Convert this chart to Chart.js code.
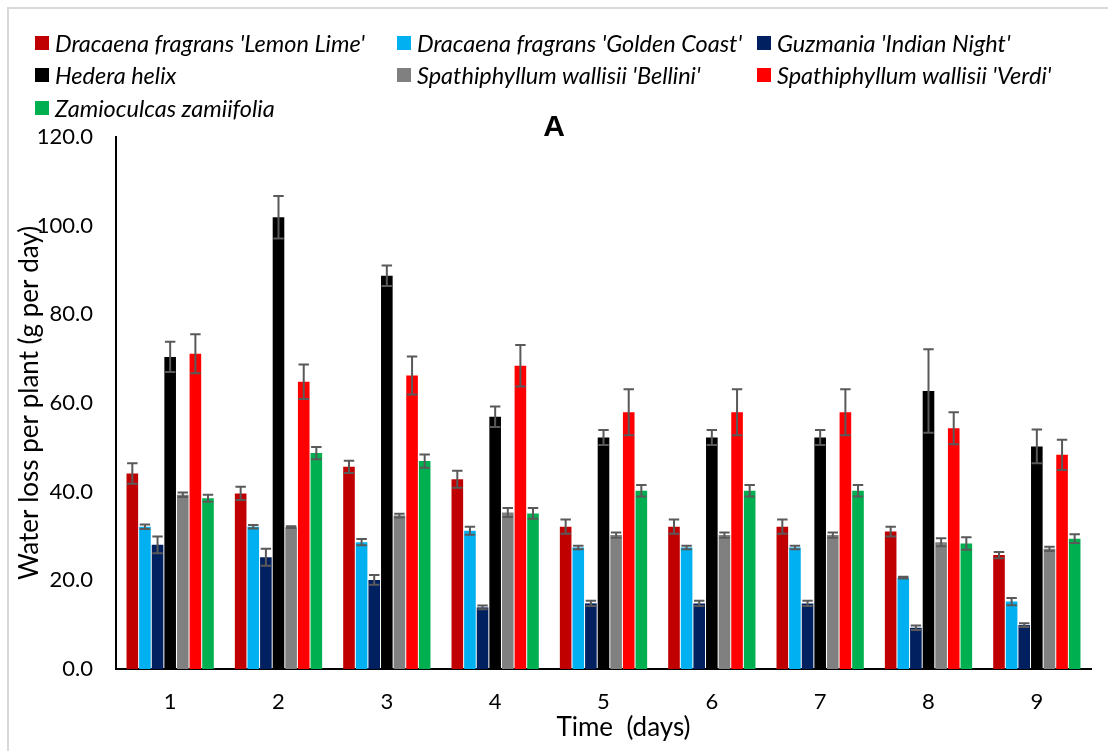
<!DOCTYPE html>
<html>
<head>
<meta charset="utf-8">
<title>Water loss per plant</title>
<script src="https://cdn.jsdelivr.net/npm/chart.js@4.4.1/dist/chart.umd.min.js"></script>
<style>
  body { margin: 0; background: #fff; }
  #wrap { position: relative; width: 1108px; height: 751px; overflow: hidden; }
  #frame { position: absolute; left: 7px; top: 7px; width: 1200px; height: 900px; border: 2px solid #d9d9d9; }
  #chart { position: absolute; left: 0; top: 0; }
  #legend { position: absolute; left: 0; top: 0; font-family: Lato, sans-serif; }
  .item { position: absolute; display: flex; align-items: center; height: 30px;
          font-style: italic; font-size: 23.5px; color: #000; white-space: nowrap; }
  .item .box { width: 14px; height: 14px; margin-right: 6px; }
</style>
</head>
<body>
<div id="wrap">
  <div id="frame"></div>
  <canvas id="chart" width="1108" height="751"></canvas>
  <div id="legend"></div>
</div>
<script>
// Dữ liệu
const days = ['1', '2', '3', '4', '5', '6', '7', '8', '9'];

const seriesNames = [
  "Dracaena fragrans 'Lemon Lime'",
  "Dracaena fragrans 'Golden Coast'",
  "Guzmania 'Indian Night'",
  "Hedera helix",
  "Spathiphyllum wallisii 'Bellini'",
  "Spathiphyllum wallisii 'Verdi'",
  "Zamioculcas zamiifolia"
];
const seriesColors = ['#C00000', '#00B0F0', '#002060', '#000000', '#808080', '#FF0000', '#00B050'];

const lemonLime   = [44.1, 39.6, 45.6, 42.8, 32.1, 32.1, 32.1, 31.0, 25.7];
const goldenCoast = [32.1, 32.1, 28.6, 31.2, 27.4, 27.4, 27.4, 20.6, 15.2];
const indianNight = [28.0, 25.2, 20.1, 13.9, 14.8, 14.8, 14.8, 9.3, 9.9];
const hedera      = [70.4, 101.9, 88.7, 56.9, 52.2, 52.2, 52.2, 62.7, 50.2];
const bellini     = [39.3, 32.0, 34.6, 35.3, 30.2, 30.2, 30.2, 28.6, 27.1];
const verdi       = [71.1, 64.8, 66.2, 68.4, 57.9, 57.9, 57.9, 54.3, 48.3];
const zamio       = [38.5, 48.7, 46.9, 35.1, 40.2, 40.2, 40.2, 28.3, 29.4];

// Sai số (±)
const lemonLimeErr   = [2.3, 1.5, 1.4, 1.9, 1.6, 1.6, 1.6, 1.1, 0.7];
const goldenCoastErr = [0.5, 0.4, 0.7, 0.9, 0.4, 0.4, 0.4, 0.2, 0.8];
const indianNightErr = [1.9, 1.9, 1.1, 0.4, 0.6, 0.6, 0.6, 0.5, 0.4];
const hederaErr      = [3.4, 4.8, 2.3, 2.3, 1.7, 1.7, 1.7, 9.4, 3.8];
const belliniErr     = [0.5, 0.2, 0.4, 1.0, 0.6, 0.6, 0.6, 0.9, 0.5];
const verdiErr       = [4.4, 3.9, 4.3, 4.7, 5.2, 5.2, 5.2, 3.6, 3.4];
const zamioErr       = [0.8, 1.4, 1.5, 1.2, 1.3, 1.3, 1.3, 1.4, 1.0];

const yTicks = [0, 20, 40, 60, 80, 100, 120];
const xTitle = 'Time  (days)';
const yTitle = 'Water loss per plant (g per day)';

const values = [lemonLime, goldenCoast, indianNight, hedera, bellini, verdi, zamio];
const errors = [lemonLimeErr, goldenCoastErr, indianNightErr, hederaErr, belliniErr, verdiErr, zamioErr];

// Thanh sai số
const errorBars = {
  id: 'errorBars',
  afterDatasetsDraw(chart) {
    const ctx = chart.ctx;
    const y = chart.scales.y;
    ctx.save();
    ctx.strokeStyle = '#595959';
    ctx.lineWidth = 2;
    chart.data.datasets.forEach((ds, i) => {
      chart.getDatasetMeta(i).data.forEach((bar, j) => {
        const v = ds.data[j], e = ds.errors[j];
        const top = y.getPixelForValue(v + e);
        const bottom = y.getPixelForValue(v - e);
        const half = bar.width * 0.45;
        ctx.beginPath();
        ctx.moveTo(bar.x, top); ctx.lineTo(bar.x, bottom);
        ctx.moveTo(bar.x - half, top); ctx.lineTo(bar.x + half, top);
        ctx.moveTo(bar.x - half, bottom); ctx.lineTo(bar.x + half, bottom);
        ctx.stroke();
      });
    });
    ctx.restore();
  }
};

// Tiêu đề trục (vẽ tay để đặt đúng chỗ như bản gốc)
const axisTitles = {
  id: 'axisTitles',
  afterDraw(chart) {
    const c = chart.ctx;
    const area = chart.chartArea;
    c.save();
    c.fillStyle = '#000';
    c.textAlign = 'center';
    c.textBaseline = 'middle';
    c.font = '26px Lato';
    c.fillText(xTitle, (area.left + area.right) / 2 + 20, 728);
    c.translate(30, (area.top + area.bottom) / 2);
    c.rotate(-Math.PI / 2);
    c.fillText(yTitle, 0, 0);
    c.restore();
  }
};

const ctx = document.getElementById('chart').getContext('2d');
new Chart(ctx, {
  type: 'bar',
  data: {
    labels: days,
    datasets: seriesNames.map((name, i) => ({
      label: name,
      data: values[i],
      errors: errors[i],
      backgroundColor: seriesColors[i],
      borderWidth: 0,
      categoryPercentage: 0.815,
      barPercentage: 0.92
    }))
  },
  options: {
    responsive: false,
    animation: false,
    layout: { padding: { top: 119, right: 17, bottom: 0, left: 17 } },
    plugins: {
      legend: { display: false },
      tooltip: { enabled: false },
      title: {
        display: true,
        text: 'A',
        color: '#000',
        padding: 0,
        font: { family: 'Liberation Sans', size: 30, weight: 'bold', lineHeight: 0.6 }
      }
    },
    scales: {
      x: {
        grid: { display: false, drawTicks: false },
        border: { display: true, color: '#000', width: 2 },
        ticks: { color: '#000', padding: 20, font: { family: 'Lato', size: 22 } },
        afterFit(scale) { scale.height = 82; }
      },
      y: {
        min: 0,
        max: 120,
        grid: { display: false, drawTicks: false },
        border: { display: true, color: '#000', width: 2 },
        afterBuildTicks(scale) { scale.ticks = yTicks.map(v => ({ value: v })); },
        ticks: {
          color: '#000',
          padding: 23,
          font: { family: 'Lato', size: 22 },
          callback: v => Number(v).toFixed(1)
        },
        afterFit(scale) { scale.width = 99; }
      }
    }
  },
  plugins: [errorBars, axisTitles]
});

// Chú thích (3 cột)
const legendCols = [35, 397, 757];
const legendRows = [43, 75, 108];
const legend = document.getElementById('legend');
seriesNames.forEach((name, i) => {
  const item = document.createElement('div');
  item.className = 'item';
  item.style.left = legendCols[i % 3] + 'px';
  item.style.top = (legendRows[Math.floor(i / 3)] - 15) + 'px';
  const box = document.createElement('span');
  box.className = 'box';
  box.style.background = seriesColors[i];
  const text = document.createElement('span');
  text.textContent = name;
  item.appendChild(box);
  item.appendChild(text);
  legend.appendChild(item);
});
</script>
</body>
</html>
